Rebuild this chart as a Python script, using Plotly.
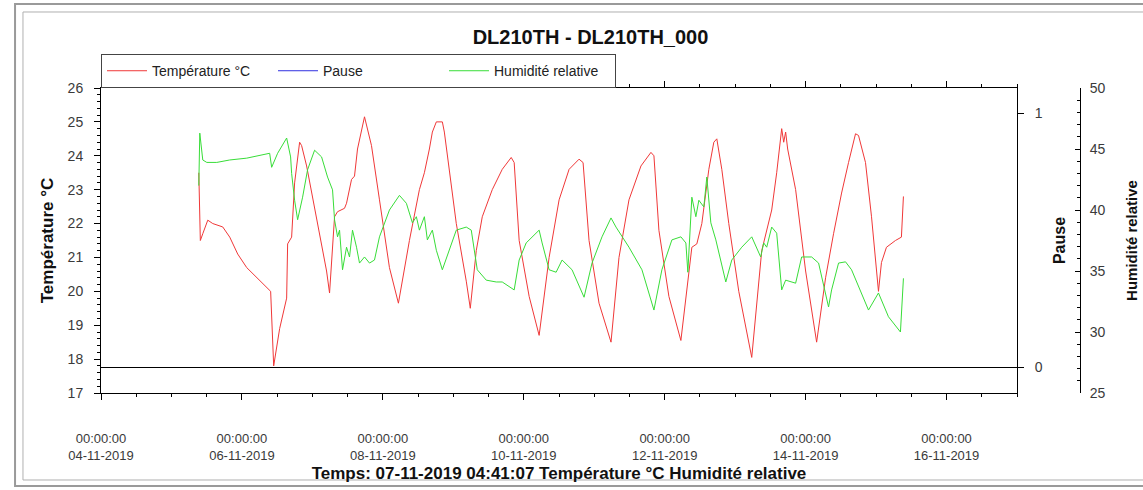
import plotly.graph_objects as go

temp_times = [
    "2019-11-05 09:19", "2019-11-05 09:50", "2019-11-05 10:40", "2019-11-05 12:22", "2019-11-05 14:04",
    "2019-11-05 17:28", "2019-11-05 19:51", "2019-11-05 22:34", "2019-11-06 01:38", "2019-11-06 05:02",
    "2019-11-06 08:46", "2019-11-06 09:47", "2019-11-06 10:49", "2019-11-06 12:51", "2019-11-06 15:14",
    "2019-11-06 15:34", "2019-11-06 16:56", "2019-11-06 17:57", "2019-11-06 19:39", "2019-11-06 20:20",
    "2019-11-06 22:02", "2019-11-07 01:26", "2019-11-07 04:50", "2019-11-07 05:51", "2019-11-07 07:33",
    "2019-11-07 08:34", "2019-11-07 10:57", "2019-11-07 11:38", "2019-11-07 13:20", "2019-11-07 14:21",
    "2019-11-07 15:22", "2019-11-07 17:45", "2019-11-07 20:08", "2019-11-07 22:51", "2019-11-08 02:15",
    "2019-11-08 05:18", "2019-11-08 09:03", "2019-11-08 12:27", "2019-11-08 14:09", "2019-11-08 15:51",
    "2019-11-08 16:52", "2019-11-08 18:13", "2019-11-08 20:16", "2019-11-08 20:57", "2019-11-09 01:01",
    "2019-11-09 04:25", "2019-11-09 05:47", "2019-11-09 07:49", "2019-11-09 09:52", "2019-11-09 13:16",
    "2019-11-09 16:40", "2019-11-09 19:43", "2019-11-09 20:44", "2019-11-09 22:26", "2019-11-10 01:50",
    "2019-11-10 05:14", "2019-11-10 08:38", "2019-11-10 12:02", "2019-11-10 15:26", "2019-11-10 18:50",
    "2019-11-10 20:12", "2019-11-10 22:14", "2019-11-11 01:38", "2019-11-11 05:43", "2019-11-11 08:26",
    "2019-11-11 11:50", "2019-11-11 15:55", "2019-11-11 19:19", "2019-11-11 20:20", "2019-11-11 22:02",
    "2019-11-12 01:26", "2019-11-12 05:31", "2019-11-12 08:14", "2019-11-12 09:15", "2019-11-12 10:57",
    "2019-11-12 12:39", "2019-11-12 15:02", "2019-11-12 16:44", "2019-11-12 17:45", "2019-11-12 19:27",
    "2019-11-12 21:50", "2019-11-13 01:14", "2019-11-13 05:39", "2019-11-13 09:03", "2019-11-13 12:27",
    "2019-11-13 14:09", "2019-11-13 15:51", "2019-11-13 16:32", "2019-11-13 17:12", "2019-11-13 17:53",
    "2019-11-13 20:36", "2019-11-14 00:00", "2019-11-14 03:45", "2019-11-14 06:48", "2019-11-14 09:31",
    "2019-11-14 12:15", "2019-11-14 14:37", "2019-11-14 17:00", "2019-11-14 18:01", "2019-11-14 20:24",
    "2019-11-14 22:27", "2019-11-15 00:49", "2019-11-15 01:50", "2019-11-15 03:32", "2019-11-15 06:36",
    "2019-11-15 08:38", "2019-11-15 09:19",
]
temp_values = [
    23.5, 21.5, 21.7, 22.1, 22.0,
    21.9, 21.6, 21.1, 20.7, 20.4,
    20.1, 20.0, 17.8, 18.9, 19.8,
    21.4, 21.6, 23.2, 24.4, 24.3,
    23.7, 22.2, 20.6, 19.95, 22.2,
    22.35, 22.45, 22.6, 23.3, 23.4,
    24.2, 25.15, 24.3, 22.7, 20.7,
    19.65, 21.5, 23.0, 23.5, 24.2,
    24.7, 25.0, 25.0, 24.7, 22.0,
    20.3, 19.5, 21.2, 22.2, 23.0,
    23.6, 23.95, 23.8, 21.5, 19.85,
    18.7, 21.0, 22.7, 23.6, 23.9,
    23.8, 21.5, 19.65, 18.5, 21.0,
    22.7, 23.7, 24.1, 24.0, 21.8,
    19.85, 18.55, 20.55, 21.3, 21.4,
    22.0, 23.6, 24.4, 24.5, 23.6,
    22.0, 20.0, 18.05, 21.2, 22.4,
    23.5, 24.8, 24.4, 24.7, 24.2,
    23.0, 20.6, 18.5, 20.4, 21.7,
    22.9, 23.8, 24.65, 24.6, 23.8,
    22.2, 20.0, 20.85, 21.3, 21.5,
    21.6, 22.8,
]

hum_times = [
    "2019-11-05 09:19", "2019-11-05 09:39", "2019-11-05 10:40", "2019-11-05 12:02", "2019-11-05 15:26",
    "2019-11-05 19:51", "2019-11-06 01:38", "2019-11-06 09:27", "2019-11-06 10:08", "2019-11-06 12:10",
    "2019-11-06 15:14", "2019-11-06 15:55", "2019-11-06 16:35", "2019-11-06 16:56", "2019-11-06 17:57",
    "2019-11-06 18:58", "2019-11-06 20:40", "2019-11-06 22:22", "2019-11-07 00:45", "2019-11-07 03:08",
    "2019-11-07 05:10", "2019-11-07 06:52", "2019-11-07 07:33", "2019-11-07 08:34", "2019-11-07 09:15",
    "2019-11-07 10:16", "2019-11-07 11:38", "2019-11-07 12:39", "2019-11-07 13:40", "2019-11-07 15:02",
    "2019-11-07 16:03", "2019-11-07 17:45", "2019-11-07 19:27", "2019-11-07 21:09", "2019-11-07 22:51",
    "2019-11-08 02:15", "2019-11-08 05:39", "2019-11-08 08:01", "2019-11-08 10:04", "2019-11-08 11:25",
    "2019-11-08 12:27", "2019-11-08 14:09", "2019-11-08 15:10", "2019-11-08 16:52", "2019-11-08 18:13",
    "2019-11-08 20:16", "2019-11-08 22:39", "2019-11-09 01:01", "2019-11-09 04:25", "2019-11-09 06:07",
    "2019-11-09 08:10", "2019-11-09 11:13", "2019-11-09 14:37", "2019-11-09 16:40", "2019-11-09 20:44",
    "2019-11-09 22:26", "2019-11-10 00:49", "2019-11-10 05:14", "2019-11-10 06:15", "2019-11-10 08:38",
    "2019-11-10 11:01", "2019-11-10 13:03", "2019-11-10 16:27", "2019-11-10 20:32", "2019-11-10 23:15",
    "2019-11-11 02:39", "2019-11-11 05:43", "2019-11-11 07:25", "2019-11-11 11:50", "2019-11-11 16:15",
    "2019-11-11 20:20", "2019-11-11 23:03", "2019-11-12 02:27", "2019-11-12 05:31", "2019-11-12 07:13",
    "2019-11-12 07:53", "2019-11-12 09:15", "2019-11-12 10:37", "2019-11-12 11:38", "2019-11-12 13:20",
    "2019-11-12 14:21", "2019-11-12 15:43", "2019-11-12 17:25", "2019-11-12 20:49", "2019-11-12 22:51",
    "2019-11-13 02:15", "2019-11-13 05:39", "2019-11-13 08:42", "2019-11-13 09:44", "2019-11-13 10:45",
    "2019-11-13 12:27", "2019-11-13 14:09", "2019-11-13 15:51", "2019-11-13 17:12", "2019-11-13 20:36",
    "2019-11-13 22:39", "2019-11-14 02:03", "2019-11-14 04:25", "2019-11-14 07:49", "2019-11-14 08:51",
    "2019-11-14 11:13", "2019-11-14 13:36", "2019-11-14 15:39", "2019-11-14 21:25", "2019-11-15 00:49",
    "2019-11-15 04:13", "2019-11-15 08:18", "2019-11-15 08:59", "2019-11-15 09:19",
]
hum_values = [
    42.0, 46.3, 44.1, 43.9, 43.9,
    44.1, 44.25, 44.65, 43.5, 44.65,
    45.9, 45.15, 44.35, 43.0, 40.8,
    39.2, 41.05, 43.3, 44.9, 44.35,
    42.7, 41.65, 39.2, 37.8, 38.35,
    35.1, 36.95, 36.15, 38.35, 36.95,
    35.65, 36.15, 35.65, 35.9, 37.8,
    40.0, 41.2, 40.55, 38.95, 39.45,
    38.35, 39.45, 37.55, 38.35, 36.7,
    35.1, 36.7, 38.35, 38.6, 38.35,
    35.1, 34.25, 34.1, 34.1, 33.45,
    35.9, 37.3, 38.35, 37.3, 35.1,
    34.9, 35.9, 35.1, 32.85, 35.65,
    37.8, 39.35, 38.6, 36.95, 35.1,
    31.8, 35.1, 37.55, 37.8, 37.3,
    34.9, 41.05, 39.45, 40.8, 40.25,
    42.7, 38.95, 37.55, 34.1, 35.9,
    36.95, 37.8, 36.15, 37.3, 36.95,
    38.6, 38.1, 33.45, 34.25, 34.0,
    36.15, 36.15, 35.65, 32.05, 33.45,
    35.65, 35.75, 35.1, 31.8, 33.2,
    31.25, 30.0, 33.7, 34.4,
]

# The "Pause" channel has no recorded samples in the window (legend entry only)
pause_times = [None]
pause_values = [None]

x_tick_values = ["2019-11-04", "2019-11-06", "2019-11-08", "2019-11-10",
                 "2019-11-12", "2019-11-14", "2019-11-16"]
x_tick_labels = ["00:00:00<br>04-11-2019", "00:00:00<br>06-11-2019", "00:00:00<br>08-11-2019",
                 "00:00:00<br>10-11-2019", "00:00:00<br>12-11-2019", "00:00:00<br>14-11-2019",
                 "00:00:00<br>16-11-2019"]

FONT = "Liberation Sans, Arial, sans-serif"
TICKC = "#3a3a3a"
TITLEC = "#111111"

fig = go.Figure()
fig.add_trace(go.Scatter(x=temp_times, y=temp_values, name="Température °C", mode="lines",
                         line=dict(color="#f03838", width=1), yaxis="y"))
fig.add_trace(go.Scatter(x=pause_times, y=pause_values, name="Pause", mode="lines",
                         line=dict(color="#3030e0", width=1), yaxis="y2"))
fig.add_trace(go.Scatter(x=hum_times, y=hum_values, name="Humidité relative", mode="lines",
                         line=dict(color="#38dd38", width=1), yaxis="y3"))

frame = dict(color="#9a9a9a", width=2)
frame2 = dict(color="#b0b0b0", width=1)

fig.update_layout(
    width=1143, height=490, autosize=False,
    margin=dict(l=101, r=63, t=88, b=97, pad=0, autoexpand=False),
    paper_bgcolor="white", plot_bgcolor="white",
    font=dict(family=FONT, size=13, color="black"),
    title=dict(text="DL210TH - DL210TH_000", x=0.5, xref="paper", xanchor="center",
               y=1 - 37 / 490, yanchor="middle", automargin=False,
               font=dict(family=FONT, size=20, color=TITLEC, weight="bold")),
    showlegend=True,
    legend=dict(orientation="h", x=0.0, y=1.111, xanchor="left", yanchor="top",
                bgcolor="white", bordercolor="#444", borderwidth=1,
                font=dict(family=FONT, size=14, color="#222"),
                itemwidth=40, entrywidth=116, entrywidthmode="pixels"),
    xaxis=dict(
        type="date", domain=[0, 916 / 979], automargin=False,
        range=["2019-11-04 00:00", "2019-11-17 00:00"],
        tickvals=x_tick_values, ticktext=x_tick_labels,
        ticks="outside", ticklen=6, tickcolor="black", tickwidth=1,
        ticklabelstandoff=27,
        minor=dict(dtick=43200000, ticks="outside", ticklen=3, tickcolor="black"),
        showline=True, linecolor="black", linewidth=1, mirror="ticks",
        showgrid=False, zeroline=False,
        tickfont=dict(family=FONT, size=13, color=TICKC),
        title=dict(text="Temps: 07-11-2019 04:41:07 Température °C Humidité relative",
                   font=dict(family=FONT, size=17, color=TITLEC, weight="bold"), standoff=5),
    ),
    yaxis=dict(
        range=[17, 26], dtick=1, tick0=17, automargin=False,
        ticks="outside", ticklen=6, tickcolor="black",
        minor=dict(dtick=0.2, ticks="outside", ticklen=3, tickcolor="black"),
        showline=True, linecolor="black", linewidth=1, mirror=True,
        showgrid=False, zeroline=False,
        ticklabelstandoff=8,
        tickfont=dict(family=FONT, size=14, color=TICKC),
        title=dict(text="Température °C", font=dict(family=FONT, size=17, color=TITLEC, weight="bold"),
                   standoff=9),
    ),
    yaxis2=dict(
        overlaying="y", side="right", anchor="x", automargin=False,
        range=[-0.1, 1.1], tickvals=[0, 1], ticktext=["0", "1"],
        ticks="outside", ticklen=6, tickcolor="black",
        showline=False, showgrid=False,
        zeroline=True, zerolinecolor="black", zerolinewidth=1,
        ticklabelstandoff=8,
        tickfont=dict(family=FONT, size=14, color=TICKC),
        title=dict(text="Pause", font=dict(family=FONT, size=16, color=TITLEC, weight="bold"),
                   standoff=12),
    ),
    yaxis3=dict(
        overlaying="y", side="right", anchor="free", position=1.0, automargin=False,
        range=[25, 50], dtick=5, tick0=25,
        ticks="inside", ticklen=5, tickcolor="black",
        minor=dict(dtick=1, ticks="inside", ticklen=3, tickcolor="black"),
        showline=True, linecolor="black", linewidth=1,
        showgrid=False, zeroline=False,
        ticklabelstandoff=6,
        tickfont=dict(family=FONT, size=14, color=TICKC),
        title=dict(text="Humidité relative", font=dict(family=FONT, size=15, color=TITLEC, weight="bold"),
                   standoff=21),
    ),
    shapes=[
        dict(type="rect", xref="paper", yref="paper", x0=-0.0878, x1=1.08, y0=-0.3049, y1=1.2754,
             line=frame, layer="below"),
        dict(type="rect", xref="paper", yref="paper", x0=-0.0797, x1=1.08, y0=-0.2852, y1=1.2492,
             line=frame2, layer="below"),
    ],
)

fig.write_html("out.html")
